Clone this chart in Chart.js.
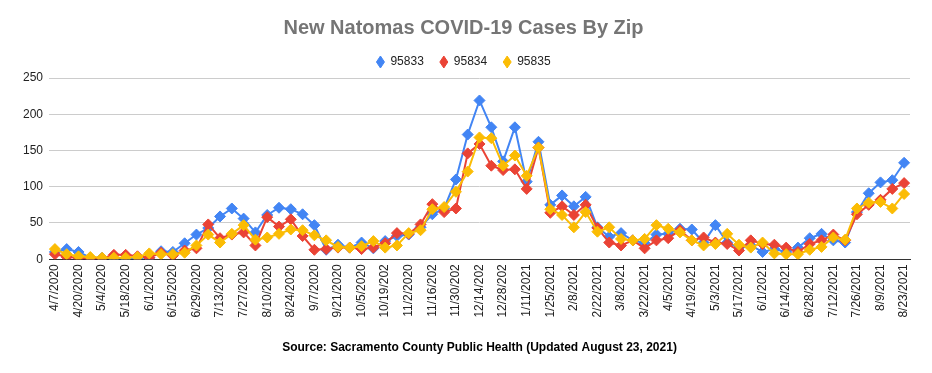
<!DOCTYPE html>
<html>
<head>
<meta charset="utf-8">
<script src="https://cdn.jsdelivr.net/npm/chart.js@4"></script>
<style>
  html, body { margin: 0; padding: 0; background: #fff; }
  #wrap { width: 932px; height: 373px; }
</style>
</head>
<body>
<div id="wrap"><canvas id="zipChart" width="932" height="373"></canvas></div>
<script>
const weeks = [
  "4/7/2020", "4/13/2020", "4/20/2020", "4/27/2020", "5/4/2020", "5/11/2020", "5/18/2020", "5/25/2020",
  "6/1/2020", "6/8/2020", "6/15/2020", "6/22/2020", "6/29/2020", "7/6/2020", "7/13/2020", "7/20/2020",
  "7/27/2020", "8/3/2020", "8/10/2020", "8/17/2020", "8/24/2020", "8/31/2020", "9/7/2020", "9/14/2020",
  "9/21/2020", "9/28/2020", "10/5/2020", "10/12/202", "10/19/202", "10/26/202", "11/2/2020", "11/9/2020",
  "11/16/202", "11/23/202", "11/30/202", "12/7/2020", "12/14/202", "12/21/202", "12/28/202", "1/4/2021",
  "1/11/2021", "1/18/2021", "1/25/2021", "2/1/2021", "2/8/2021", "2/15/2021", "2/22/2021", "3/1/2021",
  "3/8/2021", "3/15/2021", "3/22/2021", "3/29/2021", "4/5/2021", "4/12/2021", "4/19/2021", "4/26/2021",
  "5/3/2021", "5/10/2021", "5/17/2021", "5/24/2021", "6/1/2021", "6/7/2021", "6/14/2021", "6/21/2021",
  "6/28/2021", "7/5/2021", "7/12/2021", "7/19/2021", "7/26/2021", "8/2/2021", "8/9/2021", "8/16/2021",
  "8/23/2021"
];

const zip95833 = [10, 14, 10, 2, 2, 1, 1, 2, 2, 11, 10, 22, 34, 43, 59, 70, 56, 37, 61, 71,
  69, 62, 47, 13, 20, 16, 23, 15, 25, 32, 34, 44, 62, 70, 110, 172, 219, 182, 135, 182,
  107, 162, 75, 88, 73, 86, 44, 31, 36, 26, 22, 34, 35, 42, 41, 23, 47, 23, 16, 19,
  10, 14, 10, 16, 29, 35, 26, 23, 65, 91, 106, 109, 133];
const zip95834 = [7, 3, 2, 1, 1, 6, 6, 4, 2, 9, 5, 12, 15, 48, 29, 34, 37, 19, 58, 45,
  55, 32, 13, 14, 16, 16, 14, 16, 22, 36, 35, 48, 76, 65, 70, 146, 159, 129, 123, 124,
  97, 154, 64, 73, 61, 75, 43, 23, 19, 26, 15, 26, 29, 40, 26, 30, 23, 21, 12, 26,
  21, 20, 16, 10, 21, 26, 34, 26, 62, 75, 82, 97, 105];
const zip95835 = [14, 7, 4, 3, 2, 2, 2, 3, 8, 7, 7, 9, 19, 34, 23, 35, 47, 27, 30, 35,
  41, 40, 33, 26, 17, 16, 18, 25, 16, 19, 36, 40, 69, 72, 93, 121, 168, 167, 129, 143,
  115, 154, 69, 61, 44, 65, 38, 44, 28, 26, 28, 47, 42, 37, 26, 19, 21, 35, 20, 16,
  23, 8, 7, 7, 13, 17, 30, 27, 70, 78, 79, 70, 90];

const yTicks = [0, 50, 100, 150, 200, 250];

const fontFam = "'Liberation Sans', Arial, sans-serif";

function series(label, data, color, order) {
  return {
    label: label,
    data: data,
    borderColor: color,
    backgroundColor: color,
    borderWidth: 2,
    pointStyle: 'rectRot',
    pointRadius: 5.5,
    pointHoverRadius: 5.5,
    pointBorderWidth: 1,
    tension: 0,
    order: order
  };
}

const ctx = document.getElementById("zipChart").getContext("2d");

new Chart(ctx, {
  type: 'line',
  data: {
    labels: weeks,
    datasets: [
      series("95833", zip95833, '#4285F4', 3),
      series("95834", zip95834, '#EA4335', 2),
      series("95835", zip95835, '#FBBC04', 1)
    ]
  },
  options: {
    responsive: false,
    animation: false,
    layout: { padding: { top: 16, left: 17, right: 22, bottom: 18 } },
    plugins: {
      title: {
        display: true,
        text: "New Natomas COVID-19 Cases By Zip",
        color: '#757575',
        font: { family: fontFam, size: 20, weight: 'bold' },
        padding: { top: 0, bottom: 0 }
      },
      legend: {
        labels: {
          usePointStyle: true,
          pointStyle: 'rectRot',
          pointStyleWidth: 8,
          boxHeight: 8.5,
          padding: 16,
          color: '#222',
          font: { family: fontFam, size: 12 },
          sort: (a, b) => a.datasetIndex - b.datasetIndex
        }
      },
      tooltip: { enabled: false }
    },
    scales: {
      x: {
        offset: true,
        grid: { display: false, drawTicks: false },
        border: { display: true, color: '#333', width: 1 },
        ticks: {
          autoSkip: false,
          maxRotation: 90,
          minRotation: 90,
          padding: 5,
          color: '#222',
          font: { family: fontFam, size: 12 },
          callback: function (v, i) { return i % 2 === 0 ? weeks[i] : ''; }
        },
        title: {
          display: true,
          text: "Source: Sacramento County Public Health (Updated August 23, 2021)",
          color: '#000',
          font: { family: fontFam, size: 12, weight: 'bold' },
          padding: { top: 18, bottom: 0 }
        }
      },
      y: {
        min: 0,
        max: 250,
        afterBuildTicks: function (axis) { axis.ticks = yTicks.map(v => ({ value: v })); },
        grid: {
          drawTicks: false,
          color: c => c.tick && c.tick.value === 0 ? '#333' : '#cccccc'
        },
        border: { display: false },
        ticks: {
          padding: 6,
          color: '#222',
          font: { family: fontFam, size: 12 }
        }
      }
    }
  }
});
</script>
</body>
</html>
